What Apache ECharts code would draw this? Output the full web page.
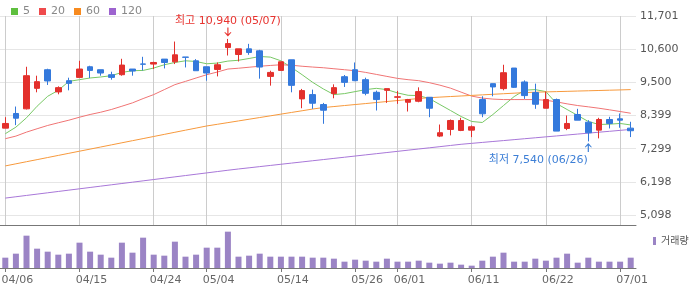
<!DOCTYPE html>
<html>
<head>
<meta charset="utf-8">
<script src="https://cdn.jsdelivr.net/npm/echarts@6/dist/echarts.min.js"></script>
<style>
html, body { margin: 0; padding: 0; background: #fff; }
#chart { width: 700px; height: 289px; }
</style>
</head>
<body>
<div id="chart"></div>
<script>
var dates = ['04/06','04/07','04/08','04/09','04/10','04/13','04/14','04/15','04/16','04/17',
  '04/20','04/21','04/22','04/23','04/24','04/27','04/28','04/29','04/30','05/04',
  '05/06','05/07','05/08','05/11','05/12','05/13','05/14','05/15','05/18','05/19',
  '05/20','05/21','05/22','05/26','05/27','05/28','05/29','06/01','06/02','06/04',
  '06/05','06/08','06/09','06/10','06/11','06/12','06/15','06/16','06/17','06/18',
  '06/19','06/22','06/23','06/24','06/25','06/26','06/29','06/30','07/01','07/02'];

var opens = [7980,8466,8621,9301,9918,9182,9555,9664,10017,9918,
  9753,9753,9941,10110,10106,10271,10182,10340,10215,10017,
  9928,10654,10423,10611,10545,9697,9895,10248,8951,9093,
  8763,9126,9687,9918,9588,9169,9235,9005,8839,8872,
  9004,7716,7937,7904,7914,8928,9456,9291,9974,9512,
  9159,8641,8928,7970,8433,8178,7914,8267,8290,7980];
var closes = [8135,8310,9720,9522,9545,9324,9466,9941,9895,9809,
  9664,10073,9875,10100,10159,10159,10413,10330,9885,9809,
  10083,10786,10611,10489,10007,9829,10182,9400,9225,8806,
  8575,9324,9499,9555,9136,8928,9291,9020,8928,9192,
  8641,7828,8234,8234,8026,8456,9347,9819,9334,9060,
  8773,8928,7881,8135,8244,7828,8267,8135,8244,7894];
var lows = [7980,8079,8600,9169,9413,9103,9235,9664,9644,9720,
  9588,9720,9720,9895,9941,9961,10106,9994,9885,9555,
  9697,10390,10192,10413,9621,9390,9895,9169,8641,8621,
  8124,8971,9347,9540,9070,8565,8817,8786,8532,8839,
  8343,7683,7739,7881,7683,8343,9037,9235,9314,8951,
  8621,8641,7881,7914,8244,7540,7640,7970,7993,7683];
var highs = [8343,8697,10017,9720,9951,9367,9654,10215,10050,9918,
  9852,10281,9941,10347,10182,10271,10853,10340,10271,10017,
  10159,10940,10611,10777,10578,9885,10182,10248,9281,9258,
  8817,9433,9743,10159,9654,9225,9291,9215,8951,9334,
  9004,8100,8267,8323,8069,9037,9456,10083,9974,9565,
  9456,9192,8961,8400,8621,8244,8323,8357,8466,8191];

var ma5 = [7795,8013,8324,8707,9037,9235,9532,9588,9644,9677,
  9720,9829,9885,9895,9974,10083,10159,10215,10192,10116,
  10139,10205,10232,10291,10357,10337,10215,9994,9753,9499,
  9281,9093,9126,9192,9258,9301,9258,9149,9070,9060,
  8961,8763,8565,8366,8201,8168,8433,8730,9027,9241,
  9258,9192,8796,8598,8399,8201,8102,8112,8135,8086];
var ma20 = [7630,7716,7848,7960,8069,8158,8244,8343,8433,8508,
  8598,8707,8819,8961,9093,9258,9423,9532,9644,9753,
  9842,9941,9968,10001,10034,10060,10083,10067,10034,10007,
  9984,9951,9918,9885,9829,9763,9697,9631,9588,9555,
  9489,9406,9307,9175,9043,8977,8944,8928,8928,8928,
  8928,8905,8852,8786,8730,8687,8641,8588,8532,8475];
var ma60 = [6726,6796,6866,6935,7005,7075,7145,7215,7284,7354,
  7424,7494,7564,7633,7703,7773,7843,7913,7982,8052,
  8107,8163,8219,8276,8332,8388,8445,8501,8557,8614,
  8663,8696,8730,8763,8796,8830,8863,8896,8930,8963,
  8991,9010,9029,9047,9066,9084,9103,9122,9140,9159,
  9173,9182,9192,9201,9211,9220,9229,9239,9248,9258];
var ma120 = [5659,5703,5747,5791,5835,5879,5923,5967,6011,6055,
  6099,6143,6187,6231,6275,6319,6363,6407,6451,6495,
  6539,6583,6625,6664,6703,6742,6781,6820,6859,6898,
  6937,6976,7015,7054,7093,7132,7171,7210,7249,7288,
  7327,7366,7405,7444,7475,7506,7537,7567,7598,7629,
  7660,7691,7721,7752,7783,7814,7845,7875,7906,7937];

var volumes = [155000,215000,485000,290000,245000,200000,215000,380000,245000,200000,
  155000,380000,230000,455000,200000,185000,395000,170000,200000,305000,
  305000,545000,170000,185000,215000,170000,170000,170000,170000,155000,
  155000,140000,95000,125000,110000,95000,140000,95000,95000,110000,
  80000,65000,80000,50000,35000,110000,170000,230000,95000,95000,
  140000,110000,155000,215000,80000,155000,95000,95000,95000,155000];

var labelDates = ['04/06','04/15','04/24','05/04','05/14','05/26','06/01','06/11','06/22','07/01'];
var priceTicks = [5098, 6198.5, 7299, 8399.5, 9500, 10600.5, 11701];
var highPoint = ['05/07', 10940];
var lowPoint = ['06/26', 7540];

var candles = dates.map(function (d, i) {
  return [opens[i], closes[i], lows[i], highs[i]];
});

function showDate(i, v) {
  return labelDates.indexOf(v) >= 0;
}
function comma(n) {
  return String(n).replace(/\B(?=(\d{3})+(?!\d))/g, ',');
}

var font = '"DejaVu Sans", "Noto Sans CJK KR", sans-serif';
var upColor = '#e3302c';
var downColor = '#3479dc';
var gridColor = '#e6e6e6';

// vertical grid lines at the labelled dates
var dateLines = labelDates.map(function (d) { return { xAxis: d }; });

var chart = echarts.init(document.getElementById('chart'));
var option = {
  animation: false,
  textStyle: { fontFamily: font },
  legend: [
    {
      data: ['5', '20', '60', '120'],
      left: 6, top: 1,
      icon: 'rect', itemWidth: 7, itemHeight: 7, itemGap: 9,
      textStyle: { color: '#888', fontSize: 11, fontFamily: font }
    },
    {
      data: ['거래량'],
      left: 648, top: 231,
      icon: 'rect', itemWidth: 3, itemHeight: 8, itemGap: 4,
      textStyle: { color: '#555', fontSize: 10, fontFamily: font }
    }
  ],
  grid: [
    { left: 0, right: 64, top: 16, height: 209, outerBoundsMode: 'none' },
    { left: 0, right: 64, top: 225, height: 43, outerBoundsMode: 'none' }
  ],
  xAxis: [
    {
      type: 'category', gridIndex: 0, data: dates, boundaryGap: true,
      axisLine: { show: true, lineStyle: { color: '#777' } },
      axisTick: { show: false },
      axisLabel: { show: false },
      splitLine: { show: false }
    },
    {
      type: 'category', gridIndex: 1, data: dates, boundaryGap: true,
      axisLine: { show: true, lineStyle: { color: '#777' } },
      axisTick: { show: true, alignWithLabel: true, interval: showDate, length: 4, lineStyle: { color: '#777' } },
      axisLabel: { interval: showDate, color: '#666', fontSize: 11, fontFamily: font, margin: 7, padding: [0, 0, 0, 24] },
      splitLine: { show: false }
    }
  ],
  yAxis: [
    {
      type: 'value', gridIndex: 0, position: 'right',
      min: 4766, max: 11701,
      axisLine: { show: false },
      axisTick: { show: false, customValues: priceTicks },
      axisLabel: {
        customValues: priceTicks, color: '#555', fontSize: 11, fontFamily: font, margin: 4,
        formatter: function (v) { return comma(Math.floor(v)); }
      },
      splitLine: { show: true, lineStyle: { color: gridColor } }
    },
    {
      type: 'value', gridIndex: 1, min: 0, max: 645000, show: false,
      splitLine: { show: false }
    }
  ],
  series: [
    {
      name: '가격', type: 'candlestick', xAxisIndex: 0, yAxisIndex: 0,
      data: candles, barWidth: 6, z: 3,
      itemStyle: { color: upColor, color0: downColor, borderColor: upColor, borderColor0: downColor, borderWidth: 1 },
      markLine: {
        silent: true, symbol: ['none', 'none'], z: 1, precision: 0,
        label: { show: false },
        lineStyle: { color: '#cccccc', type: 'solid', width: 1, opacity: 1 },
        emphasis: { lineStyle: { color: '#cccccc', width: 1 } },
        data: dateLines
      },
      markPoint: {
        data: [
          {
            coord: highPoint,
            symbol: 'path://M2.5,0 L3.5,0 L3.5,6.5 L5.5,4.5 L6,5 L3,9 L0,5 L0.5,4.5 L2.5,6.5 Z',
            symbolSize: [7, 9], symbolOffset: [0, -7],
            itemStyle: { color: '#e8332f' },
            label: {
              show: true, position: 'top', distance: 1,
              formatter: '최고 ' + comma(highPoint[1]) + ' (' + highPoint[0] + ')',
              color: '#e8332f', fontSize: 11, fontFamily: font
            }
          },
          {
            coord: lowPoint,
            symbol: 'path://M3,0 L6,4 L5.5,4.5 L3.5,2.5 L3.5,9 L2.5,9 L2.5,2.5 L0.5,4.5 L0,4 Z',
            symbolSize: [7, 9], symbolOffset: [0, 6],
            itemStyle: { color: '#3d7fd6' },
            label: {
              show: true, position: 'bottom', distance: 3, offset: [-50, 0],
              formatter: '최저 ' + comma(lowPoint[1]) + ' (' + lowPoint[0] + ')',
              color: '#3d7fd6', fontSize: 11, fontFamily: font
            }
          }
        ]
      }
    },
    {
      name: '5', type: 'line', xAxisIndex: 0, yAxisIndex: 0, data: ma5,
      showSymbol: false, z: 2,
      itemStyle: { color: '#5ebf3e' }, lineStyle: { color: '#78c865', width: 1 }
    },
    {
      name: '20', type: 'line', xAxisIndex: 0, yAxisIndex: 0, data: ma20,
      showSymbol: false, z: 2,
      itemStyle: { color: '#ef4a4c' }, lineStyle: { color: '#f07474', width: 1 }
    },
    {
      name: '60', type: 'line', xAxisIndex: 0, yAxisIndex: 0, data: ma60,
      showSymbol: false, z: 2,
      itemStyle: { color: '#f78a1f' }, lineStyle: { color: '#f7993c', width: 1 }
    },
    {
      name: '120', type: 'line', xAxisIndex: 0, yAxisIndex: 0, data: ma120,
      showSymbol: false, z: 2,
      itemStyle: { color: '#9d63cf' }, lineStyle: { color: '#a877d8', width: 1 }
    },
    {
      name: '거래량', type: 'bar', xAxisIndex: 1, yAxisIndex: 1, data: volumes,
      barWidth: 6, itemStyle: { color: '#9b84c5' }
    }
  ]
};
chart.setOption(option);
</script>
</body>
</html>
